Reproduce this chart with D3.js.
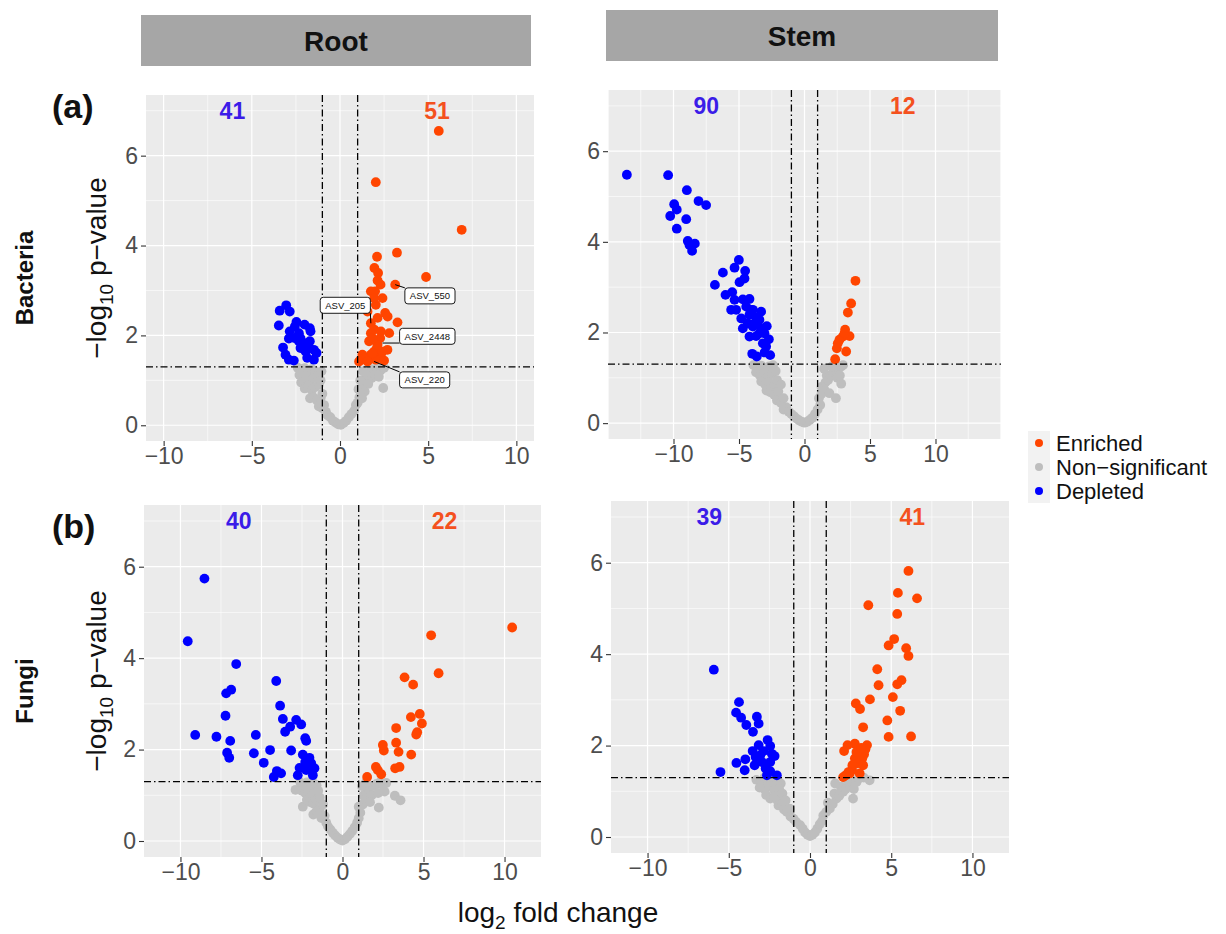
<!DOCTYPE html>
<html>
<head>
<meta charset="utf-8">
<script src="https://cdn.jsdelivr.net/npm/d3@7"></script>
<style>
  body { margin: 0; background: #fff; }
  svg { display: block; font-family: "Liberation Sans", Arial, Helvetica, sans-serif; }
</style>
</head>
<body>
<svg id="chart" width="1226" height="934"></svg>
<script>
// ---------------- DATA ----------------
const columns = ["Root", "Stem"];
const rows = ["Bacteria", "Fungi"];
const rowTags = ["(a)", "(b)"];
const xTicks = [-10, -5, 0, 5, 10];
const yTicks = [0, 2, 4, 6];
const legendLabels = ["Enriched", "Non\u2212significant", "Depleted"];
const fcCut = 1;
const pCut = 1.3;

const countsDepleted = [41, 90, 40, 39];
const countsEnriched = [51, 12, 22, 41];
const countXDepleted = [-6.1, -7.5, -6.4, -6.2];
const countXEnriched = [5.5, 7.5, 6.3, 6.3];
const countY = 7;

// Root – Bacteria
const rbEnriched = [[5.6,6.55],[2.03,5.41],[6.9,4.35],[3.23,3.84],[2.1,3.75],[4.88,3.30],[1.95,3.50],[2.16,3.39],[2.13,3.22],[2.3,3.13],[3.13,3.13],[1.99,2.98],[1.75,2.98],[2.03,2.68],[1.56,2.53],[2.56,2.50],[2.7,2.42],[3.26,2.29],[1.75,2.27],[1.94,2.13],[2.79,2.05],[1.75,2.05],[2.28,1.94],[1.65,1.87],[2.09,1.72],[2.69,1.68],[1.94,1.64],[1.27,1.57],[1.75,1.57],[2.32,1.53],[1.18,1.46],[2.03,1.46],[2.5,1.44],[1.08,1.42],[1.56,1.42],[1.84,1.60],[2.41,1.64],[2.13,1.79],[1.84,1.94],[2.32,2.09],[2.13,2.39],[2.41,2.83],[1.94,2.83]];
const rbDepleted = [[-3.05,2.67],[-3.42,2.55],[-2.85,2.53],[-2.47,2.30],[-3.47,2.22],[-2.56,2.2],[-2.01,2.24],[-1.71,2.16],[-1.67,2.09],[-2.85,2.09],[-2.33,2.05],[-2.9,1.93],[-2.24,1.94],[-1.71,1.87],[-2.01,1.83],[-3.23,1.73],[-2.24,1.72],[-1.76,1.72],[-1.48,1.68],[-1.95,1.64],[-3.09,1.57],[-1.33,1.61],[-1.86,1.50],[-2.62,1.44],[-2.9,1.46],[-1.48,1.46],[-2.33,1.87],[-2.58,1.94]];
const rbNS = [[-2.4,1.28],[-2.2,1.25],[-2.0,1.27],[-1.8,1.22],[-1.6,1.25],[-1.4,1.2],[-2.3,1.12],[-2.1,1.05],[-1.9,1.1],[-1.7,1.0],[-1.5,1.05],[-1.3,1.1],[-2.2,0.95],[-2.0,0.82],[-1.8,0.88],[-1.6,0.78],[-1.4,0.85],[-1.2,0.9],[-1.1,1.0],[-1.7,0.6],[-1.5,0.62],[-1.3,0.55],[-1.1,0.6],[-1.0,0.7],[-1.2,0.42],[-1.0,0.38],[-0.9,0.45],[-0.8,0.3],[-0.7,0.22],[-0.55,0.18],[-0.4,0.1],[-0.25,0.06],[-0.1,0.02],[0.05,0.01],[0.2,0.05],[0.35,0.1],[0.5,0.18],[0.65,0.25],[0.8,0.32],[0.9,0.45],[1.0,0.5],[1.1,0.62],[1.2,0.72],[1.05,0.8],[1.3,0.85],[1.4,0.95],[1.5,1.05],[1.6,1.12],[1.7,1.2],[1.9,1.25],[2.1,1.27],[2.3,1.22],[2.5,1.28],[1.8,1.05],[2.0,1.12],[2.2,1.08],[1.6,0.92],[1.4,0.75],[1.25,0.6],[2.45,0.83],[1.15,1.0],[1.3,1.2],[-1.05,1.2]];
const rbLabels = [
  {text:"ASV_550",  pt:[3.13,3.13], at:[5.1,2.88]},
  {text:"ASV_205",  pt:[1.75,2.27], at:[0.3,2.67]},
  {text:"ASV_2448", pt:[2.41,1.83], at:[4.95,1.98]},
  {text:"ASV_220",  pt:[1.93,1.42], at:[4.8,1.01]}
];

// Stem – Bacteria
const sbEnriched = [[3.89,3.14],[3.56,2.64],[3.31,2.44],[3.1,2.06],[3.44,1.92],[2.93,1.91],[2.54,1.76],[2.47,1.65],[3.18,1.58],[2.34,1.41],[2.67,1.84],[3.05,1.98]];
const sbDepleted = [[-13.56,5.48],[-10.41,5.47],[-8.98,5.14],[-8.09,4.90],[-7.51,4.81],[-9.95,4.83],[-9.75,4.71],[-10.25,4.57],[-9.03,4.50],[-9.75,4.29],[-8.91,4.02],[-8.37,3.96],[-8.58,3.80],[-8.78,3.93],[-5.01,3.60],[-5.34,3.43],[-4.53,3.36],[-6.23,3.32],[-4.58,3.19],[-4.96,3.11],[-6.84,3.05],[-5.52,2.89],[-6.03,2.83],[-5.34,2.72],[-4.71,2.73],[-4.2,2.74],[-5.6,2.50],[-5.22,2.50],[-4.45,2.57],[-3.94,2.50],[-3.31,2.46],[-4.83,2.31],[-4.2,2.39],[-3.69,2.33],[-3.44,2.28],[-4.71,2.09],[-3.94,2.13],[-3.31,2.09],[-2.88,2.14],[-4.2,1.91],[-3.69,1.92],[-3.05,1.98],[-2.72,1.85],[-4.33,2.20],[-3.18,1.76],[-2.93,1.69],[-3.99,1.53],[-3.64,1.47],[-3.05,1.56],[-2.62,1.50],[-3.44,1.98],[-3.82,2.2],[-4.07,2.5]];
const sbNS = [[-3.9,1.28],[-3.6,1.25],[-3.3,1.27],[-3.0,1.22],[-2.7,1.25],[-2.4,1.28],[-3.7,1.12],[-3.4,1.05],[-3.1,1.1],[-2.8,1.02],[-2.5,1.08],[-2.2,1.15],[-3.3,0.92],[-3.0,0.85],[-2.7,0.9],[-2.4,0.8],[-2.1,0.95],[-2.9,0.72],[-2.6,0.68],[-2.3,0.62],[-2.0,0.7],[-1.8,0.85],[-2.1,0.5],[-1.8,0.45],[-1.6,0.55],[-1.4,0.35],[-1.6,0.3],[-1.2,0.25],[-1.0,0.2],[-0.8,0.15],[-0.6,0.1],[-0.4,0.06],[-0.2,0.03],[0,0.01],[0.2,0.03],[0.4,0.07],[0.6,0.12],[0.8,0.2],[1.0,0.3],[1.2,0.4],[1.1,0.55],[1.3,0.65],[1.3,0.8],[1.5,0.75],[1.6,0.9],[1.8,0.95],[1.7,1.05],[2.0,1.05],[2.2,1.12],[2.4,1.18],[2.6,1.2],[2.8,1.25],[2.95,1.28],[2.1,1.25],[2.5,1.0],[2.8,0.87],[2.4,0.55],[1.9,0.66],[2.7,1.05],[1.5,1.2]];

// Root – Fungi
const rfEnriched = [[10.47,4.67],[5.47,4.50],[5.93,3.67],[3.83,3.58],[4.36,3.42],[4.77,2.78],[4.22,2.71],[4.9,2.57],[3.31,2.47],[4.61,2.38],[4.55,2.33],[2.49,2.10],[3.31,2.15],[2.55,1.98],[3.46,1.95],[4.24,1.89],[2.06,1.62],[2.18,1.55],[3.25,1.59],[3.52,1.62],[2.39,1.46],[1.52,1.40]];
const rfDepleted = [[-8.52,5.74],[-9.55,4.37],[-6.56,3.87],[-4.09,3.50],[-6.87,3.31],[-7.18,3.23],[-3.85,2.96],[-7.22,2.74],[-3.68,2.67],[-2.86,2.65],[-2.55,2.55],[-3.23,2.50],[-3.54,2.39],[-9.09,2.32],[-7.78,2.28],[-5.35,2.32],[-6.93,2.19],[-2.30,2.25],[-2.24,2.19],[-4.47,1.99],[-3.17,1.98],[-7.12,1.93],[-5.47,1.92],[-6.99,1.82],[-2.45,1.89],[-2.04,1.82],[-4.86,1.71],[-2.30,1.73],[-1.93,1.70],[-2.65,1.60],[-1.73,1.59],[-4.05,1.53],[-3.79,1.48],[-4.24,1.40],[-2.76,1.44],[-1.83,1.44],[-2.24,1.55]];
const rfNS = [[-2.9,1.12],[-2.6,1.28],[-2.4,1.25],[-2.2,1.28],[-2.0,1.2],[-1.8,1.27],[-1.6,1.22],[-2.5,1.1],[-2.3,1.05],[-2.1,1.1],[-1.9,1.0],[-1.7,1.05],[-1.5,1.1],[-2.45,0.75],[-2.2,0.9],[-2.0,0.85],[-1.8,0.82],[-1.6,0.9],[-1.4,0.95],[-1.8,0.58],[-1.6,0.65],[-1.4,0.7],[-1.2,0.8],[-1.3,0.5],[-1.1,0.55],[-1.0,0.4],[-0.9,0.32],[-0.75,0.25],[-0.6,0.18],[-0.45,0.12],[-0.3,0.07],[-0.15,0.03],[0,0.01],[0.15,0.04],[0.3,0.09],[0.45,0.15],[0.6,0.22],[0.75,0.3],[0.9,0.4],[1.0,0.5],[1.1,0.62],[1.0,0.75],[1.25,0.8],[1.4,0.9],[1.3,1.0],[1.5,1.05],[1.6,1.15],[1.8,1.0],[1.9,1.2],[2.1,1.25],[2.3,1.28],[2.5,1.22],[2.7,1.27],[2.2,1.05],[2.6,1.08],[1.7,0.85],[2.24,0.73],[3.23,0.99],[3.58,0.89],[1.2,1.2],[1.45,1.28]];

// Stem – Fungi
const sfEnriched = [[6.06,5.82],[5.41,5.34],[6.59,5.22],[3.59,5.07],[5.37,4.88],[5.18,4.33],[4.84,4.19],[5.92,4.13],[6.06,3.96],[4.14,3.67],[5.63,3.43],[5.37,3.34],[4.22,3.32],[5.10,3.06],[3.69,3.01],[2.82,2.92],[3.08,2.80],[5.55,2.76],[3.27,2.40],[4.76,2.55],[4.84,2.19],[6.22,2.20],[2.76,2.04],[2.31,2.01],[3.51,2.01],[3.41,1.92],[2.10,1.88],[3.33,1.81],[2.76,1.72],[3.22,1.72],[2.92,1.61],[3.27,1.57],[2.59,1.47],[2.20,1.35],[2.04,1.31],[2.45,1.39],[3.06,1.39],[2.86,1.86],[3.16,1.95],[2.61,1.57],[2.37,1.42]];
const sfDepleted = [[-5.92,3.66],[-4.37,2.95],[-4.55,2.72],[-4.24,2.61],[-3.27,2.63],[-3.92,2.45],[-3.16,2.48],[-3.51,2.30],[-2.61,2.12],[-3.16,2.01],[-2.45,1.99],[-3.53,1.88],[-2.86,1.88],[-2.35,1.82],[-2.18,1.77],[-3.98,1.70],[-3.35,1.75],[-3.06,1.79],[-2.45,1.64],[-4.53,1.62],[-3.41,1.57],[-2.73,1.50],[-4.02,1.46],[-5.51,1.42],[-2.45,1.44],[-2.04,1.35],[-2.65,1.35],[-2.96,1.64]];
const sfNS = [[-3.3,1.25],[-3.0,1.2],[-2.8,1.3],[-2.6,1.22],[-2.4,1.27],[-2.2,1.2],[-2.0,1.25],[-1.8,1.17],[-3.1,1.08],[-2.8,1.05],[-2.5,1.1],[-2.2,1.02],[-1.9,1.05],[-2.7,0.92],[-2.45,0.84],[-2.2,0.88],[-2.0,0.8],[-1.7,0.95],[-1.94,0.69],[-1.7,0.72],[-1.5,0.8],[-1.6,0.6],[-1.43,0.55],[-1.25,0.62],[-1.2,0.45],[-1.02,0.4],[-0.85,0.33],[-0.61,0.26],[-0.45,0.18],[-0.3,0.1],[-0.15,0.05],[0,0.02],[0.15,0.05],[0.3,0.1],[0.45,0.18],[0.6,0.28],[0.82,0.47],[0.75,0.35],[1.0,0.55],[1.22,0.62],[1.1,0.75],[1.4,0.72],[1.63,0.84],[1.5,0.95],[1.8,0.9],[2.04,0.99],[1.9,1.1],[2.2,1.05],[2.45,1.13],[2.3,1.25],[2.6,1.2],[2.86,1.2],[2.7,1.05],[2.65,0.84],[3.0,1.28],[3.3,1.3],[3.67,1.24],[1.55,1.17],[2.1,1.3]];

// ---------------- LAYOUT / STYLE ----------------
const colEnriched = "#FF4500", colNS = "#BEBEBE", colDepleted = "#0000FF";
const colCountDep = "#3B1CE8", colCountEnr = "#F4511E";
const ptR = 4.9;

const panels = [
  {box:{l:146,r:534,t:95,b:441},  xdom:[-11,11],     enr:rbEnriched, dep:rbDepleted, ns:rbNS, labels:rbLabels},
  {box:{l:608,r:1001,t:90,b:439}, xdom:[-15,15],     enr:sbEnriched, dep:sbDepleted, ns:sbNS, labels:[]},
  {box:{l:144,r:541,t:505,b:857}, xdom:[-12.25,12.25], enr:rfEnriched, dep:rfDepleted, ns:rfNS, labels:[]},
  {box:{l:611,r:1009,t:501,b:853}, xdom:[-12.25,12.25], enr:sfEnriched, dep:sfDepleted, ns:sfNS, labels:[]}
];
const ydom = [-0.35, 7.35];

const svg = d3.select("#chart");
const font = "'Liberation Sans', Arial, sans-serif";

// strips
const strips = [{l:141,r:531,t:15,b:66},{l:606,r:998,t:10,b:61}];
strips.forEach((s,i) => {
  svg.append("rect").attr("x",s.l).attr("y",s.t).attr("width",s.r-s.l).attr("height",s.b-s.t).attr("fill","#A6A6A6");
  svg.append("text").attr("x",(s.l+s.r)/2).attr("y",(s.t+s.b)/2).attr("dy","0.36em")
    .attr("text-anchor","middle").attr("font-size",28).attr("font-weight","bold").attr("fill","#111").text(columns[i]);
});

panels.forEach((p, i) => {
  const b = p.box;
  const x = d3.scaleLinear().domain(p.xdom).range([b.l, b.r]);
  const y = d3.scaleLinear().domain(ydom).range([b.b, b.t]);
  const g = svg.append("g");
  g.append("rect").attr("x",b.l).attr("y",b.t).attr("width",b.r-b.l).attr("height",b.b-b.t).attr("fill","#EBEBEB");

  const xMinor = d3.range(-17.5, 18, 5).filter(v => v > p.xdom[0] && v < p.xdom[1]);
  const xMajor = d3.range(-15, 16, 5).filter(v => v >= p.xdom[0] && v <= p.xdom[1]);
  const yMinor = [1,3,5,7];
  g.selectAll(".xmin").data(xMinor).join("line").attr("x1",d=>x(d)).attr("x2",d=>x(d)).attr("y1",b.t).attr("y2",b.b).attr("stroke","#fff").attr("stroke-width",0.6);
  g.selectAll(".ymin").data(yMinor).join("line").attr("y1",d=>y(d)).attr("y2",d=>y(d)).attr("x1",b.l).attr("x2",b.r).attr("stroke","#fff").attr("stroke-width",0.6);
  g.selectAll(".xmaj").data(xMajor).join("line").attr("x1",d=>x(d)).attr("x2",d=>x(d)).attr("y1",b.t).attr("y2",b.b).attr("stroke","#fff").attr("stroke-width",1.2);
  g.selectAll(".ymaj").data(yTicks).join("line").attr("y1",d=>y(d)).attr("y2",d=>y(d)).attr("x1",b.l).attr("x2",b.r).attr("stroke","#fff").attr("stroke-width",1.2);

  // axes
  const xa = g.append("g").attr("transform",`translate(0,${b.b})`)
    .call(d3.axisBottom(x).tickValues(xTicks).tickSize(5).tickPadding(2).tickFormat(d3.format("d")));
  const ya = g.append("g").attr("transform",`translate(${b.l},0)`)
    .call(d3.axisLeft(y).tickValues(yTicks).tickSize(5).tickPadding(3).tickFormat(d3.format("d")));
  [xa, ya].forEach(a => {
    a.select(".domain").remove();
    a.selectAll(".tick line").attr("stroke","#333").attr("stroke-width",1.1);
    a.selectAll(".tick text").attr("fill","#4D4D4D").attr("font-size",23).attr("font-family",font);
  });

  // points
  const clip = "clip"+i;
  svg.append("clipPath").attr("id",clip).append("rect").attr("x",b.l).attr("y",b.t).attr("width",b.r-b.l).attr("height",b.b-b.t);
  const pg = g.append("g").attr("clip-path",`url(#${clip})`);
  pg.selectAll(".ns").data(p.ns).join("circle").attr("cx",d=>x(d[0])).attr("cy",d=>y(d[1])).attr("r",ptR).attr("fill",colNS);
  pg.selectAll(".dep").data(p.dep).join("circle").attr("cx",d=>x(d[0])).attr("cy",d=>y(d[1])).attr("r",ptR).attr("fill",colDepleted);
  pg.selectAll(".enr").data(p.enr).join("circle").attr("cx",d=>x(d[0])).attr("cy",d=>y(d[1])).attr("r",ptR).attr("fill",colEnriched);

  // thresholds
  const dash = "7,3,1.5,3";
  [-fcCut, fcCut].forEach(v => {
    pg.append("line").attr("x1",x(v)).attr("x2",x(v)).attr("y1",b.t).attr("y2",b.b)
      .attr("stroke","#000").attr("stroke-width",1.3).attr("stroke-dasharray",dash);
  });
  pg.append("line").attr("x1",b.l).attr("x2",b.r).attr("y1",y(pCut)).attr("y2",y(pCut))
    .attr("stroke","#000").attr("stroke-width",1.3).attr("stroke-dasharray",dash);

  // counts
  g.append("text").attr("x",x(countXDepleted[i])).attr("y",y(countY)).attr("dy","0.36em").attr("text-anchor","middle")
    .attr("font-size",23).attr("font-weight","bold").attr("fill",colCountDep).text(countsDepleted[i]);
  g.append("text").attr("x",x(countXEnriched[i])).attr("y",y(countY)).attr("dy","0.36em").attr("text-anchor","middle")
    .attr("font-size",23).attr("font-weight","bold").attr("fill",colCountEnr).text(countsEnriched[i]);

  // labels
  p.labels.forEach(l => {
    const cx = x(l.at[0]), cy = y(l.at[1]);
    const t = g.append("text").attr("x",cx).attr("y",cy).attr("dy","0.36em").attr("text-anchor","middle")
      .attr("font-size",9.5).attr("fill","#111").text(l.text);
    const bb = t.node().getBBox();
    const w = bb.width + 10, h = 16;
    const px = x(l.pt[0]), py = y(l.pt[1]);
    const ex = Math.max(cx - w/2, Math.min(px, cx + w/2));
    const ey = Math.max(cy - h/2, Math.min(py, cy + h/2));
    g.insert("line", () => t.node()).attr("x1",px).attr("y1",py).attr("x2",ex).attr("y2",ey).attr("stroke","#000").attr("stroke-width",1);
    g.insert("rect", () => t.node()).attr("x",cx-w/2).attr("y",cy-h/2).attr("width",w).attr("height",h).attr("rx",3)
      .attr("fill","#fff").attr("stroke","#000").attr("stroke-width",0.9);
  });

  // row titles (left column)
  if (i % 2 === 0) {
    const row = i / 2;
    const cy = (b.t + b.b) / 2;
    const yt = svg.append("text").attr("transform",`translate(106,${cy}) rotate(-90)`).attr("text-anchor","middle")
      .attr("font-size",28).attr("fill","#111");
    yt.append("tspan").text("\u2212log");
    yt.append("tspan").attr("font-size",19).attr("dy",7).text("10");
    yt.append("tspan").attr("dy",-7).text(" p\u2212value");
    svg.append("text").attr("transform",`translate(33,${cy + 10}) rotate(-90)`).attr("text-anchor","middle")
      .attr("font-size",24).attr("font-weight","bold").attr("fill","#111").text(rows[row]);
    svg.append("text").attr("x",52).attr("y",row === 0 ? 118 : 538).attr("font-size",34).attr("font-weight","bold").attr("fill","#111").text(rowTags[row]);
  }
});

// x title
const xt = svg.append("text").attr("x",558).attr("y",922).attr("text-anchor","middle").attr("font-size",28).attr("fill","#111");
xt.append("tspan").text("log");
xt.append("tspan").attr("font-size",19).attr("dy",7).text("2");
xt.append("tspan").attr("dy",-7).text(" fold change");

// legend
const legY = [443, 467, 491];
const legCols = [colEnriched, colNS, colDepleted];
svg.append("rect").attr("x",1028).attr("y",431).attr("width",22).attr("height",72).attr("fill","#F2F2F2");
legendLabels.forEach((t,k) => {
  svg.append("circle").attr("cx",1039).attr("cy",legY[k]).attr("r",4).attr("fill",legCols[k]);
  svg.append("text").attr("x",1056).attr("y",legY[k]).attr("dy","0.36em").attr("font-size",22).attr("fill","#111").text(t);
});
</script>
</body>
</html>
